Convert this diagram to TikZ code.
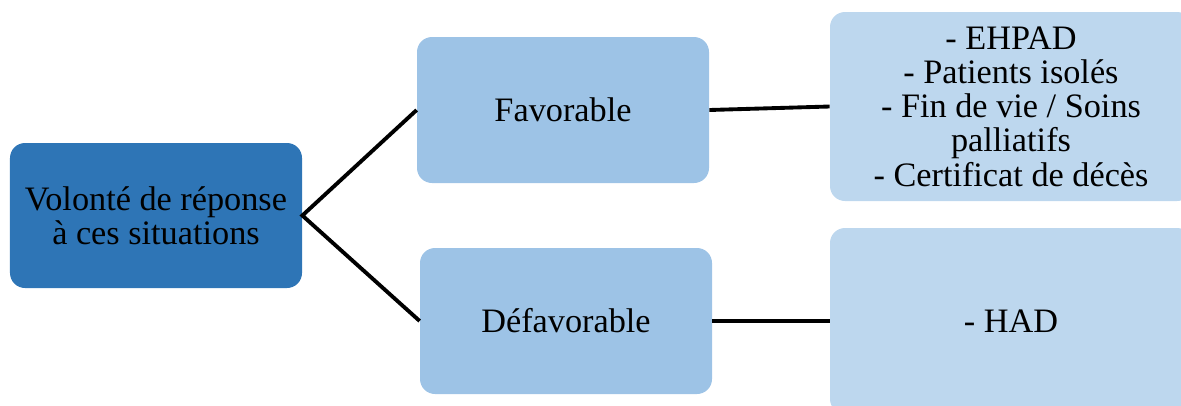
\documentclass[tikz,border=0pt]{standalone}
\usepackage{fontspec}
\setmainfont{Liberation Serif}
\definecolor{rootblue}{HTML}{2E75B6}
\definecolor{midblue}{HTML}{9DC3E6}
\definecolor{lightblue}{HTML}{BDD7EE}
\tikzset{
    box/.style={rounded corners=0.3cm, minimum width=5.84cm, minimum height=2.92cm, align=center, font=\fontsize{19.5}{19.5}\selectfont},
    link/.style={line width=2.2pt}
}
\begin{document}
\begin{tikzpicture}
        \useasboundingbox (0, 0) rectangle (23.62, 8.1);
        \node[box, fill=rootblue, minimum height=2.9cm] (root) at (3.12, 3.79) {Volonté de réponse\\à ces situations};
        \node[box, fill=midblue] (fav) at (11.26, 5.90) {Favorable};
        \node[box, fill=midblue] (def) at (11.32, 1.68) {Défavorable};
        \node[box, fill=lightblue, minimum width=7.24cm, minimum height=3.78cm] (favlist) at (20.22, 5.97) {- EHPAD\\- Patients isolés\\- Fin de vie / Soins\\palliatifs\\- Certificat de décès};
        \node[box, fill=lightblue, minimum width=7.24cm, minimum height=3.72cm] (deflist) at (20.22, 1.68) {- HAD};
        \draw[link] (fav.west) -- (root.east) -- (def.west);
        \draw[link] (fav.east) -- (favlist.west);
        \draw[link] (def.east) -- (deflist.west);
    \end{tikzpicture}
\end{document}
